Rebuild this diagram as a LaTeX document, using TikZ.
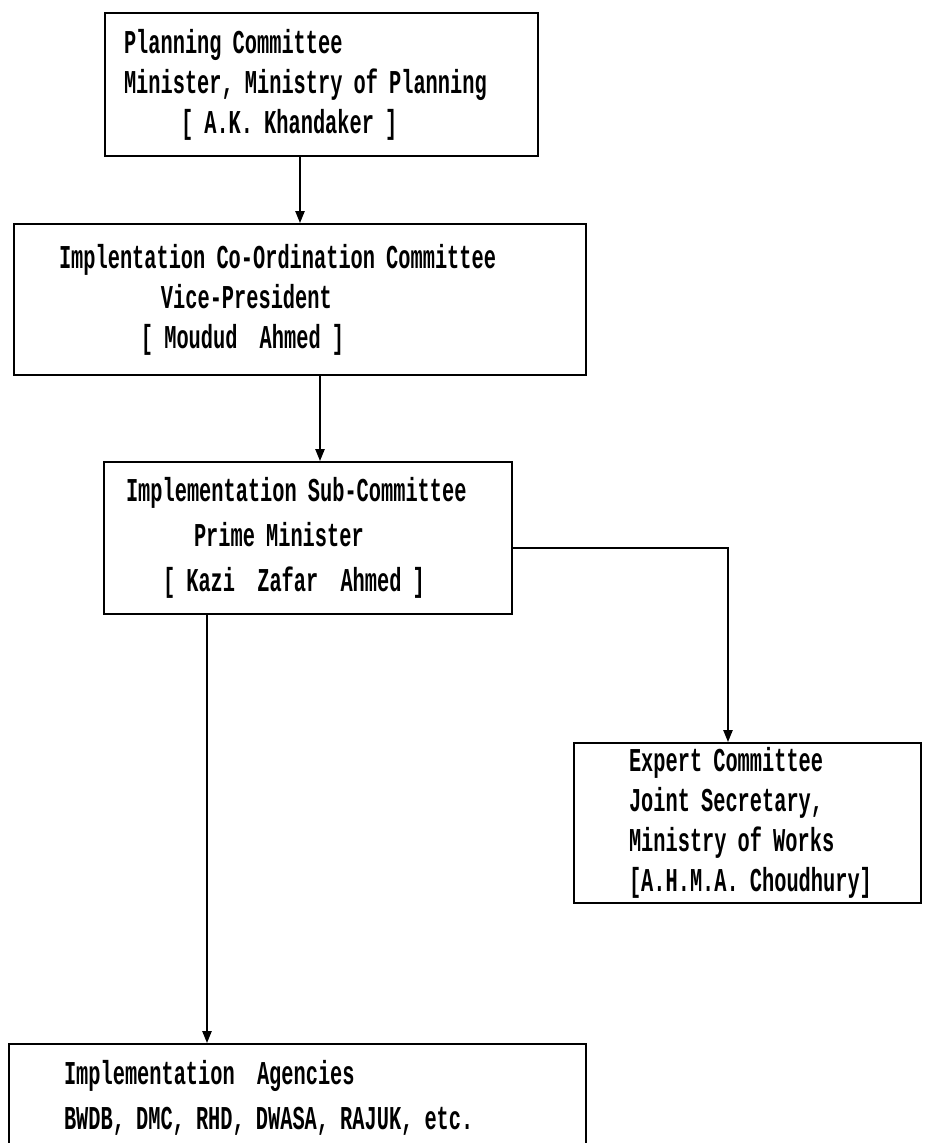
\documentclass[tikz,border=0pt]{standalone}
\usepackage{fontspec}
\newfontfamily\dotfont[FakeStretch=0.61]{Liberation Mono}
\usetikzlibrary{arrows.meta, positioning}

\begin{document}
\begin{tikzpicture}[
  x=0.75pt, y=-0.75pt,
  box/.style={draw, line width=1.5pt, anchor=north west, inner xsep=0pt, inner ysep=0pt,
    align=left, font=\dotfont\bfseries\fontsize{25}{30}\selectfont},
  arr/.style={line width=1.1pt, -{Triangle[width=7pt, length=9pt]}}
]
\useasboundingbox (0,0) rectangle (934,1143);

\node[box, text width=324.75pt, minimum height=107.25pt] (plan) at (104,12)
  {\hspace*{14.25pt}Planning Committee\\
   \hspace*{14.25pt}Minister, Ministry of Planning\\
   \hspace*{57pt}[ A.K. Khandaker ]};
\node[box, text width=429pt, minimum height=113.25pt] (coord) at (13,223)
  {\hspace*{33.75pt}Implentation Co-Ordination Committee\\
   \hspace*{110.25pt}Vice-President\\
   \hspace*{95.25pt}[ Moudud~~Ahmed ]};
\node[box, text width=306pt, minimum height=114pt,
  font=\dotfont\bfseries\fontsize{25}{33.75}\selectfont] (sub) at (103,461)
  {\hspace*{16.5pt}Implementation Sub-Committee\\
   \hspace*{67.5pt}Prime Minister\\
   \hspace*{44.25pt}[ Kazi~~Zafar~~Ahmed ]};
\node[box, text width=260.25pt, minimum height=120pt] (expert) at (573,742)
  {\hspace*{41.25pt}Expert Committee\\
   \hspace*{41.25pt}Joint Secretary,\\
   \hspace*{41.25pt}Ministry of Works\\
   \hspace*{41.25pt}[A.H.M.A. Choudhury]};
\node[box, text width=432.75pt, minimum height=80.25pt,
  font=\dotfont\bfseries\fontsize{25}{33.75}\selectfont] (agency) at (8,1043)
  {\hspace*{41.25pt}Implementation~~Agencies\\
   \hspace*{41.25pt}BWDB, DMC, RHD, DWASA, RAJUK, etc.};

% connector columns
\coordinate (c1) at (300,0);
\coordinate (c2) at (320,0);
\coordinate (c3) at (0,548);
\coordinate (c4) at (728,0);
\coordinate (c5) at (207,0);

\draw[arr] (plan.south -| c1) -- (coord.north -| c1);
\draw[arr] (coord.south -| c2) -- (sub.north -| c2);
\draw[arr] (sub.east |- c3) -| (expert.north -| c4);
\draw[arr] (sub.south -| c5) -- (agency.north -| c5);
\end{tikzpicture}
\end{document}
